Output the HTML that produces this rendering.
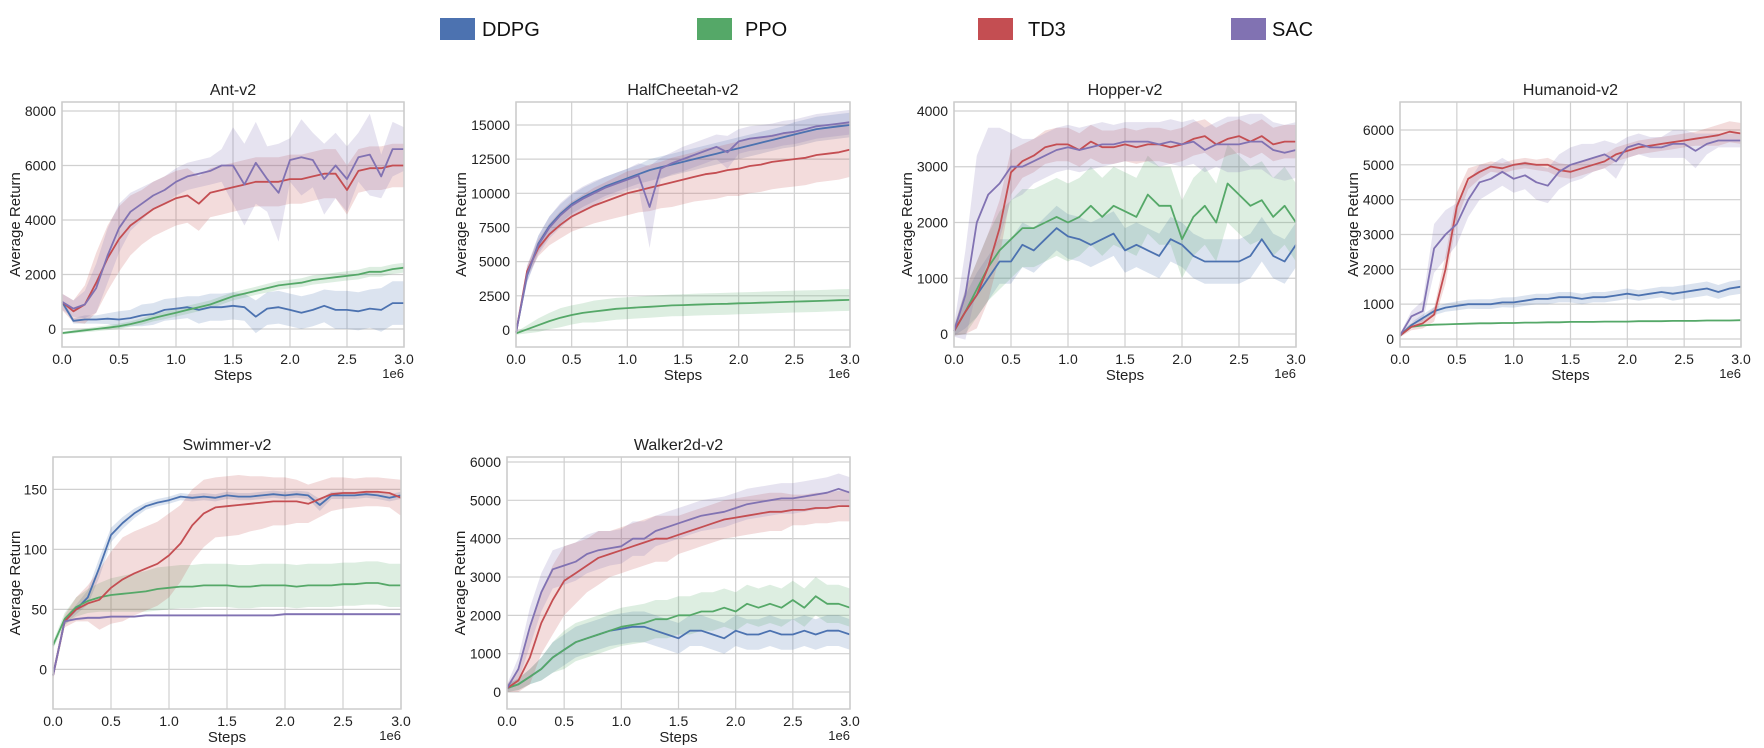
<!DOCTYPE html>
<html><head><meta charset="utf-8"><style>
body{margin:0;background:#fff;}
svg{display:block;font-family:"Liberation Sans",sans-serif;}
</style></head><body>
<svg id="fig" width="1764" height="748" viewBox="0 0 1764 748" xmlns="http://www.w3.org/2000/svg">
<g>
<g><rect x="440" y="18" width="35" height="22" fill="#4c72b0"/><text x="482" y="36" font-size="20" fill="#111">DDPG</text></g>
<g><rect x="697" y="18" width="35" height="22" fill="#55a868"/><text x="745" y="36" font-size="20" fill="#111">PPO</text></g>
<g><rect x="978" y="18" width="35" height="22" fill="#c44e52"/><text x="1028" y="36" font-size="20" fill="#111">TD3</text></g>
<g><rect x="1231" y="18" width="35" height="22" fill="#8172b2"/><text x="1272" y="36" font-size="20" fill="#111">SAC</text></g>
</g>
</svg>
<script>
const xSteps = [0,0.1,0.2,0.3,0.4,0.5,0.6,0.7,0.8,0.9,1.0,1.1,1.2,1.3,1.4,1.5,1.6,1.7,1.8,1.9,2.0,2.1,2.2,2.3,2.4,2.5,2.6,2.7,2.8,2.9,3.0];
const xTickLabels = ["0.0","0.5","1.0","1.5","2.0","2.5","3.0"];
const xTickValues = [0,0.5,1,1.5,2,2.5,3];

const antTicks = [0,2000,4000,6000,8000];
const antTD3 = [1000,650,900,1700,2600,3300,3800,4100,4400,4600,4800,4900,4600,5000,5100,5200,5300,5400,5400,5400,5500,5500,5600,5700,5700,5100,5800,5900,5900,6000,6000];
const antTD3Band = [300,400,700,1100,1200,1200,1100,1000,1000,1000,1000,1000,1000,900,900,900,900,900,900,900,900,900,900,900,900,900,800,800,800,800,800];
const antSAC = [1000,750,900,1500,2700,3700,4300,4600,4900,5100,5400,5600,5700,5800,6000,6000,5300,6100,5500,5000,6200,6300,6200,5500,6000,5500,6300,6400,5600,6600,6600];
const antSACBand = [300,300,500,900,1000,900,700,600,500,500,500,500,500,500,600,1400,1500,1500,1200,1800,800,1400,1000,1300,1200,1200,900,1500,800,1000,800];
const antDDPG = [1000,300,350,350,380,350,400,500,550,700,750,800,700,800,800,850,800,450,750,800,700,600,700,850,700,700,650,750,700,950,950];
const antDDPGBand = [100,100,150,150,200,300,300,400,400,400,400,400,500,500,500,500,500,600,600,600,600,600,600,600,700,700,700,700,800,800,800];
const antPPO = [-150,-100,-50,0,50,100,180,280,400,500,600,700,800,900,1050,1200,1300,1400,1500,1600,1650,1700,1800,1850,1900,1950,2000,2100,2100,2200,2250];
const antPPOBand = [50,60,70,80,90,100,100,120,120,140,140,150,150,150,150,150,150,150,160,160,160,160,170,170,170,170,180,180,180,180,180];

const hcTicks = [0,2500,5000,7500,10000,12500,15000];
const hcTD3 = [-200,4300,6000,7000,7700,8300,8700,9100,9400,9700,10000,10200,10400,10600,10800,11000,11200,11400,11500,11700,11800,12000,12100,12300,12400,12500,12600,12800,12900,13000,13200];
const hcTD3Band = [100,400,600,800,1000,1100,1200,1300,1400,1500,1600,1600,1700,1700,1800,1800,1800,1900,1900,1900,2000,2000,2000,2000,2000,2000,2000,2000,2000,2000,2000];
const hcDDPG = [-200,4000,6300,7600,8500,9200,9700,10100,10500,10800,11100,11400,11700,11900,12100,12300,12500,12700,12900,13100,13300,13500,13700,13900,14100,14300,14500,14700,14800,14900,15000];
const hcDDPGBand = [100,500,600,700,700,700,700,700,700,700,700,700,800,800,800,800,800,800,800,800,800,800,800,800,800,900,900,900,900,900,900];
const hcSAC = [-200,4100,6200,7500,8400,9100,9600,10000,10400,10700,11000,11300,9000,11800,12200,12500,12800,13100,13400,13000,13800,14000,14100,14200,14400,14500,14700,14900,15000,15100,15200];
const hcSACBand = [100,600,700,800,900,900,900,900,800,800,800,900,3000,800,800,900,900,900,900,1200,900,900,900,900,900,900,900,900,900,900,900];
const hcPPO = [-250,50,350,650,900,1100,1250,1350,1450,1550,1600,1650,1700,1750,1800,1820,1850,1880,1900,1920,1950,1970,2000,2020,2050,2080,2100,2120,2150,2180,2200];
const hcPPOBand = [100,300,500,600,700,700,700,800,800,800,800,800,800,800,800,800,800,800,800,800,800,800,800,800,800,800,800,800,800,800,800];

const hopTicks = [0,1000,2000,3000,4000];
const hopSAC = [50,700,2000,2500,2700,3000,3000,3100,3200,3300,3350,3300,3350,3400,3400,3450,3450,3450,3400,3450,3400,3450,3300,3400,3400,3400,3450,3450,3300,3250,3300];
const hopSACBand = [100,800,1200,1200,1000,600,500,400,400,400,400,400,400,400,350,350,350,350,400,400,400,400,400,400,500,500,500,500,500,500,500];
const hopTD3 = [50,400,700,1200,1900,2900,3100,3200,3350,3400,3400,3300,3450,3350,3350,3400,3350,3400,3400,3350,3400,3500,3550,3400,3500,3550,3450,3550,3400,3450,3450];
const hopTD3Band = [80,400,600,600,500,400,300,300,300,300,300,300,300,300,300,300,300,300,300,300,300,300,300,300,300,300,300,300,300,300,300];
const hopDDPG = [50,400,700,1000,1300,1300,1600,1500,1700,1900,1750,1700,1600,1700,1800,1500,1600,1500,1400,1700,1600,1400,1300,1300,1300,1300,1400,1700,1400,1300,1600];
const hopDDPGBand = [80,300,400,400,400,400,400,400,400,400,400,400,400,400,400,400,400,400,400,400,400,400,400,400,400,400,400,400,400,400,400];
const hopPPO = [50,400,800,1200,1500,1700,1900,1900,2000,2100,2000,2100,2300,2100,2300,2200,2100,2500,2300,2300,1700,2100,2300,2000,2700,2500,2300,2400,2100,2300,2000];
const hopPPOBand = [80,400,500,600,700,700,700,700,700,700,700,700,700,700,700,700,700,700,700,700,700,700,700,700,700,700,700,700,700,700,700];

const humTicks = [0,1000,2000,3000,4000,5000,6000];
const humTD3 = [100,350,450,700,2000,3800,4600,4800,4950,4900,5000,5050,5000,5000,4850,4800,4900,5000,5100,5300,5400,5500,5550,5600,5650,5700,5750,5800,5850,5950,5900];
const humTD3Band = [50,100,150,200,400,400,300,200,150,150,150,150,150,200,200,200,200,200,200,200,200,200,200,200,200,200,200,250,300,300,300];
const humSAC = [100,650,800,2600,3000,3300,4000,4500,4600,4800,4600,4700,4500,4400,4800,5000,5100,5200,5300,5100,5500,5600,5500,5500,5600,5600,5400,5600,5700,5700,5700];
const humSACBand = [50,150,300,700,700,600,500,500,400,400,400,400,500,500,500,500,500,400,400,500,300,300,300,300,400,400,500,300,200,200,200];
const humDDPG = [100,400,600,800,900,950,1000,1000,1000,1050,1050,1100,1150,1150,1200,1200,1150,1200,1200,1250,1300,1250,1300,1350,1300,1350,1400,1450,1350,1450,1500];
const humDDPGBand = [50,80,100,120,120,130,130,140,140,140,150,150,150,150,150,150,150,150,150,150,150,150,150,150,200,200,200,200,200,200,200];
const humPPO = [100,350,390,410,420,430,440,450,450,460,460,470,470,480,480,490,490,490,500,500,500,510,510,510,520,520,520,530,530,530,540];
const humPPOBand = [20,20,20,20,20,20,20,20,20,20,20,20,20,20,20,20,20,20,20,20,20,20,20,20,20,20,20,20,20,20,20];

const swTicks = [0,50,100,150];
const swDDPG = [-5,40,50,60,85,112,122,130,136,139,141,144,143,144,143,145,144,144,145,146,145,146,145,137,145,145,145,146,145,143,145];
const swDDPGBand = [2,3,4,6,8,6,5,4,3,3,3,3,3,3,3,3,3,3,3,3,3,3,3,5,3,3,3,3,3,3,3];
const swTD3 = [-5,40,50,55,58,68,75,80,84,88,95,105,120,130,135,136,137,138,139,140,140,140,138,142,146,147,147,148,148,147,143];
const swTD3Band = [5,5,10,15,25,30,35,35,35,35,35,32,30,28,25,25,25,23,22,20,20,18,16,15,14,13,12,12,12,12,15];
const swPPO = [20,42,52,57,60,62,63,64,65,67,68,69,69,70,70,70,69,69,70,70,70,69,70,70,70,71,71,72,72,70,70];
const swPPOBand = [3,5,8,10,12,14,15,16,17,18,18,18,18,18,18,18,18,18,18,18,18,18,18,18,18,18,18,18,18,18,18];
const swSAC = [-5,40,42,43,43,44,44,44,45,45,45,45,45,45,45,45,45,45,45,45,46,46,46,46,46,46,46,46,46,46,46];
const swSACBand = [1,1,1,1,1,1,1,1,1,1,1,1,1,1,1,1,1,1,1,1,1,1,1,1,1,1,1,1,1,1,1];

const wkTicks = [0,1000,2000,3000,4000,5000,6000];
const wkSAC = [100,600,1700,2600,3200,3300,3400,3600,3700,3750,3800,4000,4000,4200,4300,4400,4500,4600,4650,4700,4800,4900,4950,5000,5050,5050,5100,5150,5200,5300,5200];
const wkSACBand = [100,300,500,500,500,500,500,500,500,450,450,450,450,400,400,400,400,400,400,400,400,400,400,400,400,400,400,400,400,400,400];
const wkTD3 = [100,300,900,1800,2400,2900,3100,3300,3500,3600,3700,3800,3900,4000,4000,4100,4200,4300,4400,4500,4550,4600,4650,4700,4700,4750,4750,4800,4800,4850,4850];
const wkTD3Band = [100,300,700,800,900,900,800,700,700,600,600,600,600,600,600,500,500,500,500,500,500,500,500,500,500,400,400,400,400,400,400];
const wkDDPG = [100,200,400,600,900,1100,1300,1400,1500,1600,1650,1700,1700,1600,1500,1400,1600,1600,1500,1400,1600,1500,1500,1600,1500,1500,1600,1500,1600,1600,1500];
const wkDDPGBand = [100,150,200,300,400,400,400,400,400,400,400,400,400,400,400,400,400,400,400,400,400,400,400,400,400,400,400,400,400,400,400];
const wkPPO = [100,200,400,600,900,1100,1300,1400,1500,1600,1700,1750,1800,1900,1900,2000,2000,2100,2100,2200,2100,2300,2200,2300,2200,2400,2200,2500,2300,2300,2200];
const wkPPOBand = [100,150,200,300,400,500,500,500,500,500,500,500,500,500,500,500,500,500,500,500,500,500,500,500,500,500,500,500,500,500,500];

const COL = {ddpg:"#4c72b0", ppo:"#55a868", td3:"#c44e52", sac:"#8172b2"};
const NS = "http://www.w3.org/2000/svg";
const fig = document.getElementById("fig");
function mk(tag, attrs, parent){const e=document.createElementNS(NS,tag);for(const k in attrs)e.setAttribute(k,attrs[k]);parent.appendChild(e);return e;}

const panels = [
 {name:"ant", title:"Ant-v2", L:62,R:404,T:102,B:347, ymin:-660, ymax:8330, ticks:antTicks, yoff:42,
  series:[["ddpg",antDDPG,antDDPGBand],["ppo",antPPO,antPPOBand],["td3",antTD3,antTD3Band],["sac",antSAC,antSACBand]]},
 {name:"halfcheetah", title:"HalfCheetah-v2", L:516,R:850,T:102,B:347, ymin:-1244, ymax:16680, ticks:hcTicks, yoff:50,
  series:[["ddpg",hcDDPG,hcDDPGBand],["ppo",hcPPO,hcPPOBand],["td3",hcTD3,hcTD3Band],["sac",hcSAC,hcSACBand]]},
 {name:"hopper", title:"Hopper-v2", L:954,R:1296,T:102,B:347, ymin:-233, ymax:4161, ticks:hopTicks, yoff:42,
  series:[["ddpg",hopDDPG,hopDDPGBand],["ppo",hopPPO,hopPPOBand],["td3",hopTD3,hopTD3Band],["sac",hopSAC,hopSACBand]]},
 {name:"humanoid", title:"Humanoid-v2", L:1400,R:1741,T:102,B:347, ymin:-230, ymax:6804, ticks:humTicks, yoff:42,
  series:[["ddpg",humDDPG,humDDPGBand],["ppo",humPPO,humPPOBand],["td3",humTD3,humTD3Band],["sac",humSAC,humSACBand]]},
 {name:"swimmer", title:"Swimmer-v2", L:53,R:401,T:457,B:709, ymin:-33, ymax:177, ticks:swTicks, yoff:33,
  series:[["ddpg",swDDPG,swDDPGBand],["ppo",swPPO,swPPOBand],["td3",swTD3,swTD3Band],["sac",swSAC,swSACBand]]},
 {name:"walker2d", title:"Walker2d-v2", L:507,R:850,T:457,B:709, ymin:-443, ymax:6130, ticks:wkTicks, yoff:42,
  series:[["ddpg",wkDDPG,wkDDPGBand],["ppo",wkPPO,wkPPOBand],["td3",wkTD3,wkTD3Band],["sac",wkSAC,wkSACBand]]}
];

panels.forEach(p=>{
  const g = mk("g",{},fig);
  
  
  const xs = v => p.L + (v/3)*(p.R-p.L);
  const ys = v => p.B - (v-p.ymin)/(p.ymax-p.ymin)*(p.B-p.T);
  xTickValues.forEach((v,i)=>{
    const l = mk("line",{x1:xs(v),x2:xs(v),y1:p.T,y2:p.B,stroke:"#d0d0d0","stroke-width":1.2},g);
    
    
    const t = mk("text",{x:xs(v),y:p.B+17,"font-size":14,"text-anchor":"middle",fill:"#222"},g);
    t.textContent = xTickLabels[i];
    
    
  });
  p.ticks.forEach(v=>{
    const l = mk("line",{x1:p.L,x2:p.R,y1:ys(v),y2:ys(v),stroke:"#d0d0d0","stroke-width":1.2},g);
    
    
    const t = mk("text",{x:p.L-6,y:ys(v)+5,"font-size":14,"text-anchor":"end",fill:"#222"},g);
    t.textContent = String(v);
    
    
  });
  p.series.forEach(([k,m,b])=>{
    let up = xSteps.map((x,i)=>xs(x).toFixed(1)+","+ys(m[i]+b[i]).toFixed(1));
    let lo = xSteps.map((x,i)=>xs(x).toFixed(1)+","+ys(m[i]-b[i]).toFixed(1)).reverse();
    const poly = mk("polygon",{points:up.concat(lo).join(" "),fill:COL[k],"fill-opacity":0.2,stroke:"none"},g);
    
    
  });
  p.series.forEach(([k,m,b])=>{
    const pts = xSteps.map((x,i)=>xs(x).toFixed(1)+","+ys(m[i]).toFixed(1)).join(" ");
    const pl = mk("polyline",{points:pts,fill:"none",stroke:COL[k],"stroke-width":1.8,"stroke-linejoin":"round"},g);
    
    
  });
  const fr = mk("rect",{x:p.L,y:p.T,width:p.R-p.L,height:p.B-p.T,fill:"none",stroke:"#cccccc","stroke-width":1.5},g);
  
  
  const ti = mk("text",{x:(p.L+p.R)/2,y:p.T-7,"font-size":16,"text-anchor":"middle",fill:"#222"},g);
  ti.textContent = p.title;
  
  
  const xl = mk("text",{x:(p.L+p.R)/2,y:p.B+33,"font-size":15,"text-anchor":"middle",fill:"#222"},g);
  xl.textContent = "Steps";
  
  
  const ex = mk("text",{x:p.R,y:p.B+31,"font-size":13,"text-anchor":"end",fill:"#222"},g);
  ex.textContent = "1e6";
  
  
  const cy=(p.T+p.B)/2, cx=p.L-p.yoff;
  const yl = mk("text",{x:cx,y:cy,"font-size":15,"text-anchor":"middle",fill:"#222",transform:`rotate(-90 ${cx} ${cy})`},g);
  yl.textContent = "Average Return";
  
  
});
</script>
</body></html>
